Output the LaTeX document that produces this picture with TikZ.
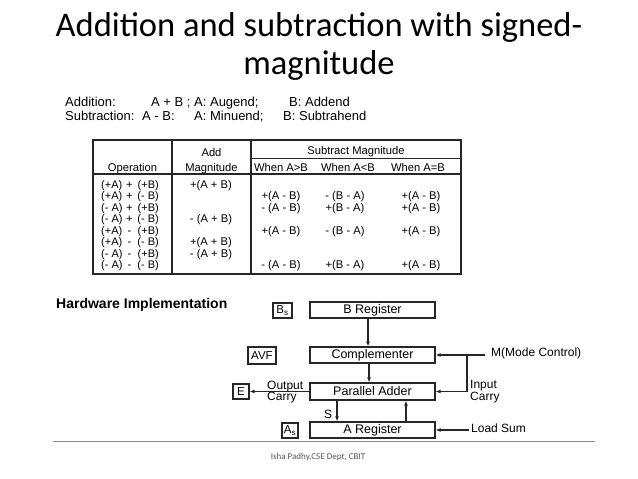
\documentclass[tikz,border=0pt]{standalone}
\usepackage{fontspec}
\setmainfont{Liberation Sans}
\newfontfamily\calib{Carlito}
\usetikzlibrary{arrows.meta}
\tikzset{
  ttl/.style={anchor=base, font=\calib\fontsize{34.5}{40}\selectfont},
  deftxt/.style={anchor=base west, inner sep=0, font=\fontsize{13}{15}\selectfont},
  tbl/.style={line width=1.3pt, black!85},
  tbl2/.style={line width=1pt, black!85},
  cell/.style={anchor=base, inner sep=0, font=\fontsize{11.2}{12}\selectfont},
  cellw/.style={anchor=base west, inner sep=0, font=\fontsize{11}{12}\selectfont},
  celle/.style={anchor=base east, inner sep=0, font=\fontsize{11}{12}\selectfont},
  reg/.style={draw, line width=1.2pt, black!85, text=black, inner sep=0, minimum width=125pt, minimum height=16pt, font=\fontsize{12.5}{13}\selectfont},
  sbox/.style={draw, line width=1.2pt, black!85, text=black, inner sep=0, minimum height=15pt, font=\fontsize{11.5}{12}\selectfont},
  lbl/.style={anchor=west, inner sep=0, font=\fontsize{12}{12}\selectfont},
  arr/.style={line width=1.1pt, black!85, -{Latex[length=5pt,width=4pt]}},
  wire/.style={line width=1.1pt, black!85}
}
\begin{document}
\begin{tikzpicture}[x=1pt,y=-1pt]
\useasboundingbox[fill=white] (0,0) rectangle (638,479);

% title
\node[ttl] (t1) at (319,36.7) {Addition and subtraction with signed-};
\node[ttl] (t2) at (319,74) {magnitude};

% definitions
\node[deftxt] (d1) at (65,106) {Addition:};
\node[deftxt] (d2) at (151,106) {A + B ; A: Augend;};
\node[deftxt] (d3) at (289,106) {B: Addend};
\node[deftxt] (d4) at (65,120) {Subtraction:};
\node[deftxt] (d5) at (142,120) {A - B:};
\node[deftxt] (d6) at (194,120) {A: Minuend;};
\node[deftxt] (d7) at (283,120) {B: Subtrahend};

% table frame
\draw[tbl] (93,140) rectangle (461,274);
\draw[tbl] (172,140) -- (172,274);
\draw[tbl] (251,140) -- (251,274);
\draw[tbl2] (251,158) -- (461,158);
\draw[tbl] (93,174) -- (461,174);

% headers
\node[cell] (hop) at (132.5,171) {Operation};
\node[cell] (hadd1) at (211.5,156) {Add};
\node[cell] (hadd2) at (211.5,171) {Magnitude};
\node[cell] (hsub) at (356,154.5) {Subtract Magnitude};
\node[cell] (hw1) at (281,171) {When A>B};
\node[cell] (hw2) at (348,171) {When A<B};
\node[cell] (hw3) at (418,171) {When A=B};

% operation column
\foreach \y/\a/\o/\b [count=\i] in {
  188/(+A)/+/(+B), 199.5/(+A)/+/(- B), 211/(- A)/+/(+B), 222.5/(- A)/+/(- B),
  234/(+A)/-/(+B), 245.5/(+A)/-/(- B), 257/(- A)/-/(+B), 268.5/(- A)/-/(- B)}{
  \node[cellw] (opa\i) at (101,\y) {\a};
  \node[cell] (opo\i) at (129.5,\y) {\o};
  \node[celle] (opb\i) at (159,\y) {\b};
}

% add magnitude
\node[cell] (am1) at (211,188) {+(A + B)};
\node[cell] (am4) at (211,222.5) {- (A + B)};
\node[cell] (am6) at (211,245.5) {+(A + B)};
\node[cell] (am7) at (211,257) {- (A + B)};

% subtract magnitude
\node[cell] (g2) at (281,199.5) {+(A - B)};
\node[cell] (g3) at (281,211) {- (A - B)};
\node[cell] (g5) at (281,234) {+(A - B)};
\node[cell] (g8) at (281,268.5) {- (A - B)};
\node[cell] (l2) at (345,199.5) {- (B - A)};
\node[cell] (l3) at (345,211) {+(B - A)};
\node[cell] (l5) at (345,234) {- (B - A)};
\node[cell] (l8) at (345,268.5) {+(B - A)};
\node[cell] (e2) at (421,199.5) {+(A - B)};
\node[cell] (e3) at (421,211) {+(A - B)};
\node[cell] (e5) at (421,234) {+(A - B)};
\node[cell] (e8) at (421,268.5) {+(A - B)};

% hardware
\node[anchor=west, inner sep=0, font=\bfseries\fontsize{14}{15}\selectfont] (hw) at (56,305) {Hardware Implementation};

\node[reg] (breg) at (372.5,310) {B Register};
\node[reg] (comp) at (372.5,355) {Complementer};
\node[reg, minimum height=17pt] (pa) at (372.5,391.5) {Parallel Adder};
\node[reg] (areg) at (372.5,430) {A Register};

\node[sbox, minimum width=19pt] (bs) at (282.5,310.5) {B$_{\mathrm{s}}$};
\node[sbox, minimum width=28pt, minimum height=17pt] (avf) at (262,355.5) {AVF};
\node[sbox, minimum width=16pt] (ebox) at (241,391.5) {E};
\node[sbox, minimum width=16pt] (as) at (290,430.5) {A$_{\mathrm{s}}$};

\draw[arr] ([xshift=-4.5pt]breg.south) -- ([xshift=-4.5pt]comp.north);
\draw[arr] ([xshift=-3.5pt]comp.south) -- ([xshift=-3.5pt]pa.north);
\draw[arr] ([xshift=-35.5pt]pa.south) -- ([xshift=-35.5pt]areg.north);
\draw[arr] ([xshift=33.5pt]areg.north) -- ([xshift=33.5pt]pa.south);
\draw[arr] (pa.west) -- (ebox.east);

\coordinate (mend) at (485,355);
\coordinate (mj) at (467,355);
\coordinate (ls) at (469,430);
\draw[arr] (mend) -- (comp.east);
\draw[arr] (mj) |- (pa.east);
\draw[arr] (ls) -- (areg.east);

\node[lbl] (mc) at (491,353.5) {M(Mode Control)};
\node[lbl] (ic1) at (470,386) {Input};
\node[lbl] (ic2) at (470,397.5) {Carry};
\node[lbl] (oc1) at (267,386.5) {Output};
\node[lbl] (oc2) at (267,398) {Carry};
\node[lbl] (lsum) at (471,428.5) {Load Sum};
\node[lbl] (slbl) at (324,414) {S};

% footer
\draw[black!45, line width=1pt] (53,441) -- (595,441);
\node[font=\calib\fontsize{9}{10}\selectfont, text=black!65] (ft) at (318,457) {Isha Padhy,CSE Dept, CBIT};
\end{tikzpicture}
\end{document}
